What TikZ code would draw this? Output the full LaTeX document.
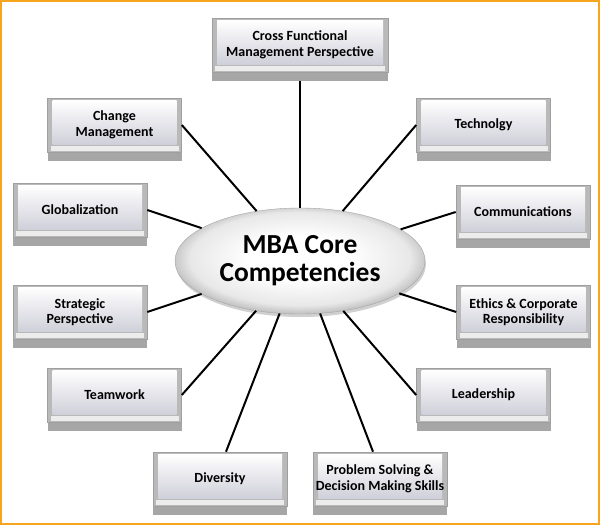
\documentclass[tikz,border=0pt]{standalone}
\usepackage{fontspec}
\setmainfont{Carlito}
\usetikzlibrary{shadows,shapes.geometric}
\definecolor{orangeb}{RGB}{247,165,30}
\definecolor{lav}{RGB}{208,208,218}
\definecolor{ellA}{RGB}{255,255,255}
\definecolor{ellB}{RGB}{232,232,232}
\definecolor{ellC}{RGB}{160,160,160}
\definecolor{ellD}{RGB}{90,90,90}
\pgfdeclareradialshading{ellsh}{\pgfpoint{0bp}{2bp}}{color(0bp)=(ellA); color(10bp)=(ellA); color(22bp)=(ellB); color(29bp)=(ellC); color(35bp)=(ellD); color(50bp)=(ellD)}
\tikzset{
  cbox/.style={draw=gray!75, line width=0.6pt, fill=gray!55,
    minimum width=134pt, minimum height=54pt, inner sep=2pt, align=center,
    font=\bfseries\fontsize{14}{15.5}\selectfont,
    drop shadow={shadow xshift=0pt, shadow yshift=-9pt, fill=gray!70, opacity=1},
    path picture={
      \fill[gray!15] ([shift={(3pt,1pt)}]path picture bounding box.south west) rectangle ([shift={(-3pt,6pt)}]path picture bounding box.south east);
      \fill[top color=white, bottom color=lav] ([shift={(5pt,-2pt)}]path picture bounding box.north west) rectangle ([shift={(-5pt,8pt)}]path picture bounding box.south east);
    }},
  ell/.style={ellipse, minimum width=250pt, minimum height=106pt, inner sep=0pt,
    shade, shading=ellsh, draw=gray!70, align=center,
    font=\bfseries\fontsize{27.5}{28}\selectfont,
    drop shadow={shadow xshift=1pt, shadow yshift=-3pt, fill=gray!60, opacity=0.6}},
  conn/.style={line width=2pt, black}
}
\begin{document}
\begin{tikzpicture}[x=1pt, y=-1pt]
\useasboundingbox (0,0) rectangle (600,525);
\fill[white] (0,0) rectangle (600,525);
\draw[orangeb, line width=2pt] (1,1) rectangle (599,524);

\node[ell] (core) at (300,261) {MBA Core\\Competencies};

\node[cbox, minimum width=176pt] (cf) at (300,45) {Cross Functional\\Management Perspective};
\node[cbox] (cm) at (114.5,125) {Change\\Management};
\node[cbox] (tech) at (483.5,125) {Technolgy};
\node[cbox] (glob) at (80,210) {Globalization};
\node[cbox] (comm) at (523,212) {Communications};
\node[cbox] (strat) at (80,312) {Strategic\\Perspective};
\node[cbox] (eth) at (523.5,312) {Ethics \& Corporate\\Responsibility};
\node[cbox] (team) at (114.5,395) {Teamwork};
\node[cbox] (lead) at (483.5,395) {Leadership};
\node[cbox] (div) at (220,479) {Diversity};
\node[cbox] (ps) at (380,479) {Problem Solving \&\\Decision Making Skills};

\draw[conn] ([yshift=-9pt]cf.south) -- (core);
\draw[conn] (cm.east) -- (core);
\draw[conn] (tech.west) -- (core);
\draw[conn] (glob.east) -- (core);
\draw[conn] (comm.west) -- (core);
\draw[conn] (strat.east) -- (core);
\draw[conn] (eth.west) -- (core);
\draw[conn] (team.east) -- (core);
\draw[conn] (lead.west) -- (core);
\draw[conn] ([xshift=6pt]div.north) -- (core);
\draw[conn] ([xshift=-7pt]ps.north) -- (core);
\end{tikzpicture}
\end{document}
